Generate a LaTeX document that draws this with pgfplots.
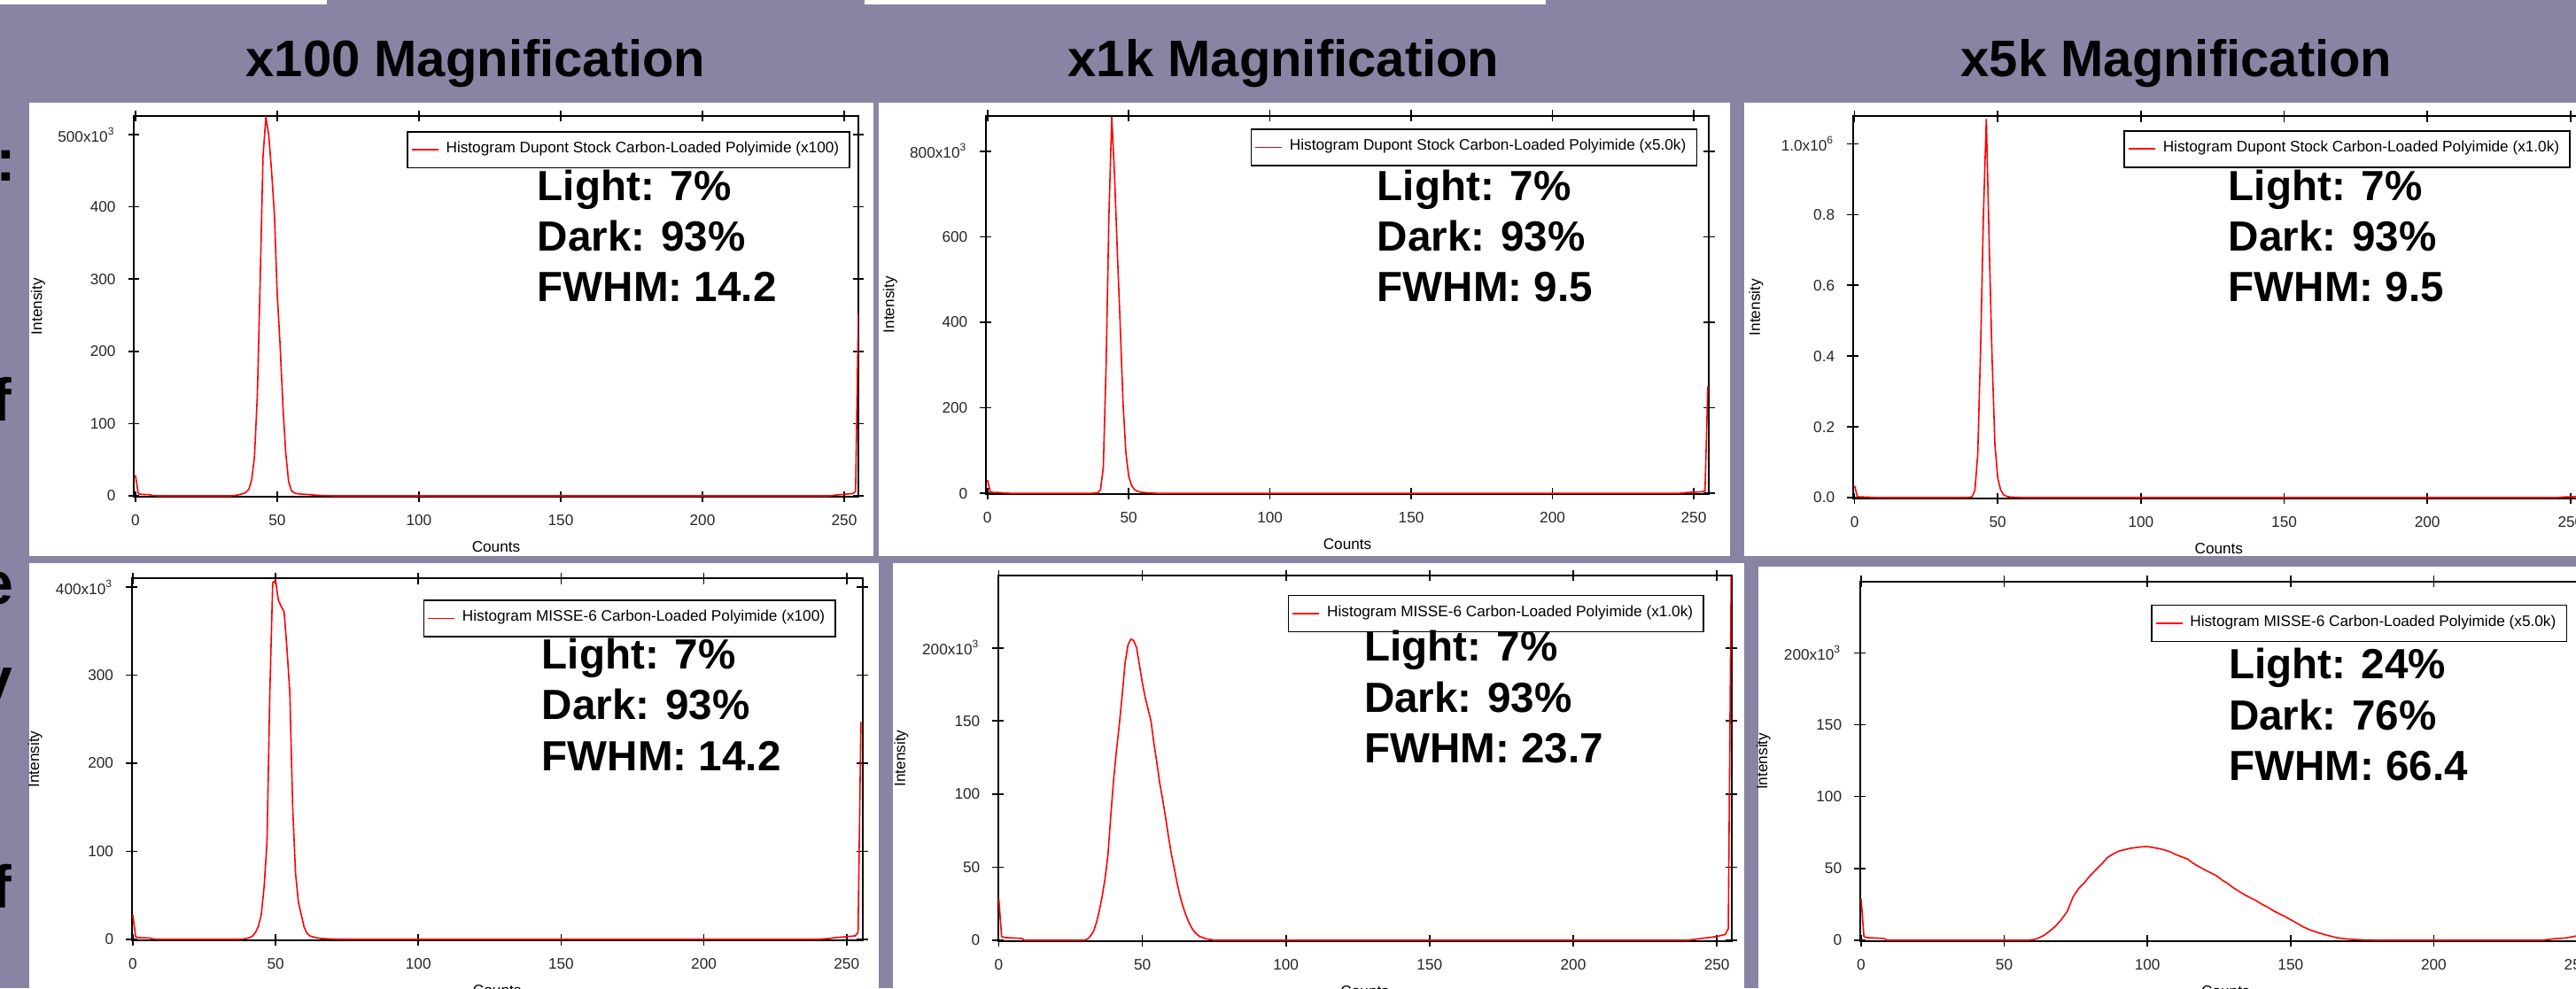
\documentclass[border=0pt]{standalone}
\usepackage{fontspec}
\setmainfont{Liberation Sans}
\usepackage{pgfplots}
\pgfplotsset{compat=1.18}
\definecolor{bg}{RGB}{138,132,164}
\newcommand{\tl}[1]{\mbox{#1}}
\newcommand{\sm}{\fontsize{4.3}{5}\selectfont}
\newcommand{\anno}{\fontsize{11.9}{14}\selectfont\bfseries}
\newcommand{\ttl}{\fontsize{14.5}{17}\selectfont\bfseries}
\newcommand{\edge}{\fontsize{17}{20}\selectfont\bfseries}
\pgfplotsset{
 panel/.style={
  scale only axis, anchor=south west, clip=true, no markers,
  scaled y ticks=false, scaled x ticks=false,
  axis line style={black, line width=0.5pt},
  tick style={black, line width=0.4pt},
  tick align=center, major tick length=3.2pt,
  xtick pos=both, ytick pos=both,
  xticklabel pos=lower, yticklabel pos=left,
  xtick={0,50,100,150,200,250},
  xticklabels={\tl{0},\tl{50},\tl{100},\tl{150},\tl{200},\tl{250}},
  tick label style={font=\sm, text=black!85},
  xlabel={Counts}, ylabel={Intensity},
  every axis x label/.style={at={(axis description cs:0.5,0)}, anchor=center, yshift=-14.2pt, font=\sm},
  every axis y label/.style={at={(axis description cs:-0.132,0.5)}, anchor=center, rotate=90, font=\sm},
  legend cell align=left,
  legend style={draw=black, line width=0.4pt, fill=white, font=\sm, inner xsep=1pt, inner ysep=0.8pt, anchor=north east},
  legend image code/.code={\draw[#1, line width=0.4pt] (0pt,0pt) -- (7.5pt,0pt);},
 }
}
\begin{document}
\begin{tikzpicture}
\useasboundingbox (0,0) rectangle (727pt,-279pt);
\clip (0,0) rectangle (727pt,-279pt);
\begin{scope}[x=0.25pt,y=-0.25pt]
 \fill[bg] (0,0) rectangle (2908,1116);
 \fill[white] (0,0) rectangle (369,5);
 \fill[white] (976,0) rectangle (1745,5);
 \fill[white] (33,116) rectangle (986,628);
 \fill[white] (992,116) rectangle (1953,628);
 \fill[white] (1969,116) rectangle (2908,628);
 \fill[white] (33,636) rectangle (992,1116);
 \fill[white] (1008,636) rectangle (1969,1116);
 \fill[white] (1985,640) rectangle (2908,1116);
 \node[anchor=base, font=\ttl] at (537,86.5) {x100 Magnification};
 \node[anchor=base, font=\ttl] at (1449,86.5) {x1k Magnification};
 \node[anchor=base, font=\ttl] at (2457,86.5) {x5k Magnification};
 \node[anchor=base east, font=\edge, inner sep=0pt] at (18.5,204) {o:};
 \node[anchor=base east, font=\edge, inner sep=0pt] at (14,475) {f};
 \node[anchor=base east, font=\edge, inner sep=0pt] at (16,682) {e};
 \node[anchor=base east, font=\edge, inner sep=0pt] at (4,731) {\smash{s}};
 \node[anchor=base east, font=\edge, inner sep=0pt] at (15,790) {\smash{y}};
 \node[anchor=base east, font=\edge, inner sep=0pt] at (14,1025) {f};
\end{scope}

% Panel A
\begin{axis}[panel, at={(37.75pt,-140.25pt)}, width=204.5pt, height=107.5pt,
 xmin=-0.6, xmax=255, ymin=-1300, ymax=525700,
 ytick={0,100000,200000,300000,400000,500000},
 yticklabels={\tl{0},\tl{100},\tl{200},\tl{300},\tl{400},\tl{500x10\textsuperscript{3}}},
 legend style={at={(axis description cs:0.989,0.9605)}}]
\addplot[red, line width=0.4pt] coordinates {(0,28000) (1,3000) (2,2000) (5,1500) (6,500) (8,0) (34,0) (36,1000) (38,3000) (39,5000) (40,9000) (41,22000) (42,55000) (43,140000) (44,300000) (45,470000) (46,524000) (47,500000) (48,450000) (49,390000) (50,280000) (51,210000) (52,125000) (53,60000) (54,20000) (55,7000) (56,4000) (57,3000) (58,2500) (60,2000) (63,1000) (66,300) (70,0) (245,0) (247,1000) (250,2000) (253,3000) (254,6000) (255,250000)};
\addlegendentry{Histogram Dupont Stock Carbon-Loaded Polyimide (x100)}
\end{axis}

% Panel B
\begin{axis}[panel, at={(278.2pt,-139.45pt)}, width=204.1pt, height=106.8pt,
 xmin=-0.6, xmax=255.4, ymin=-1500, ymax=883000,
 ytick={0,200000,400000,600000,800000},
 yticklabels={\tl{0},\tl{200},\tl{400},\tl{600},\tl{800x10\textsuperscript{3}}},
 legend style={at={(axis description cs:0.984,0.966)}}]
\addplot[red, line width=0.4pt] coordinates {(0,31000) (1,3000) (2,2000) (5,1500) (6,500) (8,0) (37,0) (39,1000) (40,8000) (41,60000) (42,300000) (43,650000) (44,880000) (45,740000) (46,560000) (47,390000) (48,210000) (49,95000) (50,40000) (51,18000) (52,9000) (53,5000) (54,3000) (55,2000) (57,1000) (60,0) (245,0) (248,2000) (252,3000) (254,5000) (255,250000)};
\addlegendentry{Histogram Dupont Stock Carbon-Loaded Polyimide (x5.0k)}
\end{axis}

% Panel C
\begin{axis}[panel, at={(522.9pt,-140.75pt)}, width=206.6pt, height=107.9pt,
 xmin=-0.6, xmax=255, ymin=-2500, ymax=1077500,
 ytick={0,200000,400000,600000,800000,1000000},
 yticklabels={\tl{0.0},\tl{0.2},\tl{0.4},\tl{0.6},\tl{0.8},\tl{1.0x10\textsuperscript{6}}},
 legend style={at={(axis description cs:0.9806,0.9638)}}]
\addplot[red, line width=0.4pt] coordinates {(0,33000) (1,3000) (2,2000) (5,1500) (6,500) (8,0) (39,0) (41,2000) (42,20000) (43,120000) (44,420000) (45,800000) (46,1070000) (47,720000) (48,400000) (49,150000) (50,55000) (51,22000) (52,8000) (53,4000) (54,2000) (56,1000) (60,0) (245,0) (248,2000) (252,3000) (254,5000) (255,250000)};
\addlegendentry{Histogram Dupont Stock Carbon-Loaded Polyimide (x1.0k)}
\end{axis}

% Panel D
\begin{axis}[panel, at={(37.15pt,-265.4pt)}, width=206.3pt, height=102.1pt,
 xmin=-0.4, xmax=255.6, ymin=-700, ymax=410000,
 ytick={0,100000,200000,300000,400000},
 yticklabels={\tl{0},\tl{100},\tl{200},\tl{300},\tl{400x10\textsuperscript{3}}},
 legend style={at={(axis description cs:0.9638,0.9412)}}]
\addplot[red, line width=0.4pt] coordinates {(0,28000) (1,3000) (2,2000) (6,1500) (7,500) (9,0) (37,0) (39,500) (41,2000) (42,4000) (43,8000) (44,15000) (45,28000) (46,60000) (47,110000) (48,280000) (49,405000) (50,408000) (51,385000) (52,378000) (53,372000) (54,330000) (55,280000) (56,150000) (57,75000) (58,42000) (59,28000) (60,14000) (61,7000) (62,4000) (64,2000) (66,1000) (70,300) (75,0) (240,0) (244,1000) (246,2000) (250,3000) (253,4000) (254,8000) (255,247000)};
\addlegendentry{Histogram MISSE-6 Carbon-Loaded Polyimide (x100)}
\end{axis}

% Panel E
\begin{axis}[panel, at={(281.7pt,-265.7pt)}, width=206.95pt, height=103.2pt,
 xmin=-0.2, xmax=255.1, ymin=-600, ymax=249500,
 ytick={0,50000,100000,150000,200000},
 yticklabels={\tl{0},\tl{50},\tl{100},\tl{150},\tl{200x10\textsuperscript{3}}},
 legend style={at={(axis description cs:0.963,0.9474)}}]
\addplot[red, line width=0.4pt] coordinates {(0,29000) (1,2500) (2,1800) (8,1200) (9,0) (30,0) (31,1000) (32,3000) (33,6000) (34,12000) (35,20000) (36,30000) (37,42000) (38,58000) (39,85000) (40,110000) (41,130000) (42,148000) (43,168000) (44,190000) (45,202000) (46,206000) (47,205000) (48,200000) (49,188000) (50,176000) (51,166000) (52,158000) (53,150000) (54,135000) (55,122000) (56,108000) (57,97000) (58,85000) (59,72000) (60,60000) (61,50000) (62,40000) (63,31000) (64,24000) (65,18000) (66,13000) (67,9000) (68,6000) (69,4000) (70,2500) (72,1000) (75,0) (240,0) (244,1000) (250,2500) (253,4000) (254,8000) (255,250000)};
\addlegendentry{Histogram MISSE-6 Carbon-Loaded Polyimide (x1.0k)}
\end{axis}

% Panel F
\begin{axis}[panel, at={(524.9pt,-265.7pt)}, width=206.4pt, height=101.5pt,
 xmin=-0.4, xmax=255, ymin=-600, ymax=249700,
 ytick={0,50000,100000,150000,200000},
 yticklabels={\tl{0},\tl{50},\tl{100},\tl{150},\tl{200x10\textsuperscript{3}}},
 legend style={at={(axis description cs:0.9672,0.936)}}]
\addplot[red, line width=0.4pt] coordinates {(0,28800) (1,2500) (2,1800) (8,1200) (9,0) (58,0) (60,300) (62,1500) (64,3500) (66,6500) (68,10000) (70,14500) (72,20000) (74,30000) (76,36000) (78,40000) (80,45000) (82,49000) (84,53000) (86,57500) (88,60000) (90,62000) (92,63000) (94,64000) (96,64500) (98,65000) (100,65200) (102,64500) (104,63800) (106,62800) (108,61500) (110,59500) (112,58000) (114,56500) (116,53500) (118,51200) (120,49000) (122,47000) (124,45000) (126,42000) (128,39500) (130,36500) (132,34000) (134,31500) (136,29500) (138,27500) (140,25000) (142,23000) (144,20500) (146,18500) (148,16500) (150,14300) (152,12000) (154,9700) (156,7800) (158,6300) (160,5000) (162,3800) (164,2800) (166,1800) (168,1200) (170,800) (172,500) (175,200) (180,0) (238,0) (242,1000) (246,1500) (250,3000) (254,6000) (255,250000)};
\addlegendentry{Histogram MISSE-6 Carbon-Loaded Polyimide (x5.0k)}
\end{axis}

\begin{scope}[x=0.25pt,y=-0.25pt]
 \tikzset{an/.style={anchor=base west, font=\anno, inner sep=0pt}}
 \node[an] at (606,226.5) {Light: 7\%};
 \node[an] at (606,283.7) {Dark: 93\%};
 \node[an] at (606,340.8) {FWHM: 14.2};
 \node[an] at (1554,226.5) {Light: 7\%};
 \node[an] at (1554,283.7) {Dark: 93\%};
 \node[an] at (1554,340.8) {FWHM: 9.5};
 \node[an] at (2515,226.5) {Light: 7\%};
 \node[an] at (2515,283.7) {Dark: 93\%};
 \node[an] at (2515,340.8) {FWHM: 9.5};
 \node[an] at (611,755) {Light: 7\%};
 \node[an] at (611,812.7) {Dark: 93\%};
 \node[an] at (611,870) {FWHM: 14.2};
 \node[an] at (1539.3,746.7) {Light: 7\%};
 \node[an] at (1539.3,804) {Dark: 93\%};
 \node[an] at (1539.3,861.7) {FWHM: 23.7};
 \node[an] at (2515.2,766.7) {Light: 24\%};
 \node[an] at (2515.2,824) {Dark: 76\%};
 \node[an] at (2515.2,881.7) {FWHM: 66.4};
\end{scope}
\end{tikzpicture}
\end{document}
